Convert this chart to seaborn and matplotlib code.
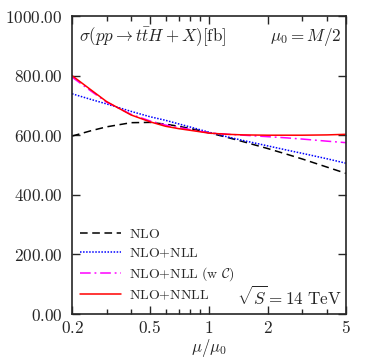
# plot.py
# Scale dependence of sigma(pp -> ttH + X), 368x358 px

import numpy as np
import pandas as pd
import matplotlib.pyplot as plt
import seaborn as sns
from matplotlib.ticker import FixedLocator, FixedFormatter, NullFormatter

# values
mu = [0.2, 0.25, 0.3, 0.4, 0.5, 0.6, 0.7, 0.85, 1.0, 1.25, 1.5, 2.0, 2.5, 3.0, 4.0, 5.0]
nlo = [597, 615, 628, 642, 643, 637, 630, 619, 608, 592, 578, 555, 536, 520, 493, 472]
nlo_nll = [739, 720, 705, 680, 662, 650, 638, 623, 610, 594, 582, 564, 550, 539, 521, 506]
nlo_nll_c = [795, 748, 711, 670, 648, 634, 626, 616, 608, 603, 600, 595, 591, 587, 580, 575]
nlo_nnll = [800, 752, 713, 668, 645, 630, 622, 614, 607, 603, 601, 600, 600, 600, 601, 603]

labels = [r"$\mathrm{NLO}$", r"$\mathrm{NLO{+}NLL}$",
          r"$\mathrm{NLO{+}NLL\ (w\ }\mathcal{C})$", r"$\mathrm{NLO{+}NNLL}$"]
series = [nlo, nlo_nll, nlo_nll_c, nlo_nnll]
colors = ["black", "#0000ff", "#ff00ff", "#ff0000"]
dashes = [(5, 3), (1, 1), (7, 2.5, 1.2, 2.5), ()]

df = pd.concat([pd.DataFrame({"mu": mu, "sigma": s, "curve": l})
                for s, l in zip(series, labels)])

sns.set_style("ticks")
plt.rcParams["mathtext.fontset"] = "cm"
plt.rcParams["font.family"] = ["DejaVu Serif"]

fig = plt.figure(figsize=(3.68, 3.58), dpi=100)
ax = fig.add_axes([0.1957, 0.1229, 0.7443, 0.8324])

for l, c, d in zip(labels, colors, dashes):
    sub = df[df["curve"] == l]
    sns.lineplot(data=sub, x="mu", y="sigma", ax=ax, color=c,
                 lw=1.1, label=l, legend=False)
    if d:
        ax.lines[-1].set_dashes(d)

ax.set_xscale("log")
ax.set_xlim(0.2, 5)
ax.set_ylim(0, 1000)

ax.xaxis.set_major_locator(FixedLocator([0.2, 0.5, 1, 2, 5]))
ax.xaxis.set_major_formatter(FixedFormatter([r"$0.2$", r"$0.5$", r"$1$", r"$2$", r"$5$"]))
ax.xaxis.set_minor_locator(FixedLocator([0.3, 0.4, 0.6, 0.7, 0.8, 0.9, 3, 4]))
ax.xaxis.set_minor_formatter(NullFormatter())
yt = [0, 200, 400, 600, 800, 1000]
ax.yaxis.set_major_locator(FixedLocator(yt))
ax.yaxis.set_major_formatter(FixedFormatter([r"$%.2f$" % v for v in yt]))

ax.tick_params(which="both", direction="in", top=True, right=True, width=1.0)
ax.tick_params(which="major", length=6, labelsize=12.3)
ax.tick_params(which="minor", length=3.5)
ax.tick_params(axis="y", pad=7)
ax.tick_params(axis="x", pad=4)
for s in ax.spines.values():
    s.set_linewidth(1.2)

ax.set_xlabel(r"$\mu/\mu_0$", fontsize=12, labelpad=0)
ax.set_ylabel("")

ax.text(0.025, 0.93, r"$\sigma(pp\to t\bar{t}H+X)[\mathrm{fb}]$",
        transform=ax.transAxes, fontsize=12.3, ha="left", va="center")
ax.text(0.985, 0.93, r"$\mu_0 = M/2$",
        transform=ax.transAxes, fontsize=12.3, ha="right", va="center")
ax.text(0.985, 0.055, r"$\sqrt{S} = 14\ \mathrm{TeV}$",
        transform=ax.transAxes, fontsize=12.3, ha="right", va="center")

ax.legend(loc="lower left", bbox_to_anchor=(0.03, 0.04), frameon=False,
          fontsize=10, handlelength=2.9, handletextpad=0.6, labelspacing=0.36,
          borderpad=0, borderaxespad=0)

fig.savefig("out.png", dpi=100)
plt.close(fig)
